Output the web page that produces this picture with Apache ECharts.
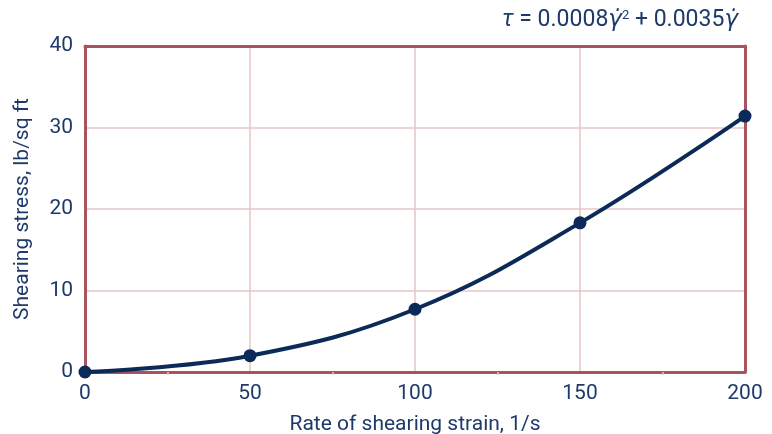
<!DOCTYPE html>
<html><head><meta charset="utf-8">
<script src="https://cdn.jsdelivr.net/npm/echarts@6/dist/echarts.min.js"></script>
<style>html,body{margin:0;padding:0;background:#fff}#c{width:772px;height:434px}</style>
</head><body><div id="c"></div>
<script>
const strainRates = [0, 50, 100, 150, 200];
const shearStress = [0, 2.0, 7.7, 18.3, 31.4];
const xTitle = 'Rate of shearing strain, 1/s';
const yTitle = 'Shearing stress, lb/sq ft';

const textColor = '#1d3a6b';
const frameColor = '#a8545e';
const gridColor = '#e6c6c6';
const lineColor = '#0b2a57';
const font = 'Roboto';

const frameAxis = {
  type: 'value', axisLine: {show: true, onZero: false, lineStyle: {color: frameColor, width: 3}},
  axisTick: {show: false}, axisLabel: {show: false}, splitLine: {show: false}, z: 4
};

const chart = echarts.init(document.getElementById('c'));
chart.setOption({
  animation: false,
  grid: {left: 85, right: 27, top: 46, bottom: 62, outerBoundsMode: 'none', containLabel: false},
  graphic: [{
    type: 'text', right: 34, top: 9, z: 10,
    style: {
      text: '{i|τ} = 0.0008{g|γ̇}{s|2} + 0.0035{g|γ̇}',
      rich: {
        i: {fontStyle: 'italic', fontSize: 23, fontFamily: font, fill: textColor},
        g: {fontStyle: 'italic', fontSize: 23, fontFamily: 'DejaVu Sans', fill: textColor},
        s: {fontSize: 13, fontFamily: font, fill: textColor, verticalAlign: 'top', padding: [0,0,10,0]}
      },
      font: '23px ' + font, fill: textColor
    }
  }],
  xAxis: [{
    type: 'value', min: 0, max: 200, interval: 50,
    name: xTitle, nameLocation: 'middle', nameGap: 42,
    nameTextStyle: {color: textColor, fontSize: 21, fontFamily: font},
    axisLine: {show: true, lineStyle: {color: frameColor, width: 3}},
    axisTick: {show: false},
    minorTick: {show: true, splitNumber: 2, length: 3, lineStyle: {color: gridColor, width: 1.5}},
    axisLabel: {color: textColor, fontSize: 21, fontFamily: font, margin: 11},
    splitLine: {show: true, showMinLine: false, showMaxLine: false, lineStyle: {color: gridColor, width: 1.5}},
    z: 4
  }, Object.assign({}, frameAxis, {position: 'top', min: 0, max: 200})],
  yAxis: [{
    type: 'value', min: 0, max: 40, interval: 10,
    name: yTitle, nameLocation: 'middle', nameGap: 52,
    nameTextStyle: {color: textColor, fontSize: 21, fontFamily: font},
    axisLine: {show: true, lineStyle: {color: frameColor, width: 3}},
    axisTick: {show: false},
    axisLabel: {color: textColor, fontSize: 21, fontFamily: font, margin: 12},
    splitLine: {show: true, showMinLine: false, showMaxLine: false, lineStyle: {color: gridColor, width: 1.5}},
    z: 4
  }, Object.assign({}, frameAxis, {position: 'right', min: 0, max: 40})],
  series: [{
    type: 'line',
    data: strainRates.map((x, i) => [x, shearStress[i]]),
    smooth: 0.4,
    symbol: 'circle', symbolSize: 13,
    lineStyle: {color: lineColor, width: 4},
    itemStyle: {color: lineColor},
    clip: false, z: 5
  }]
});
</script></body></html>
